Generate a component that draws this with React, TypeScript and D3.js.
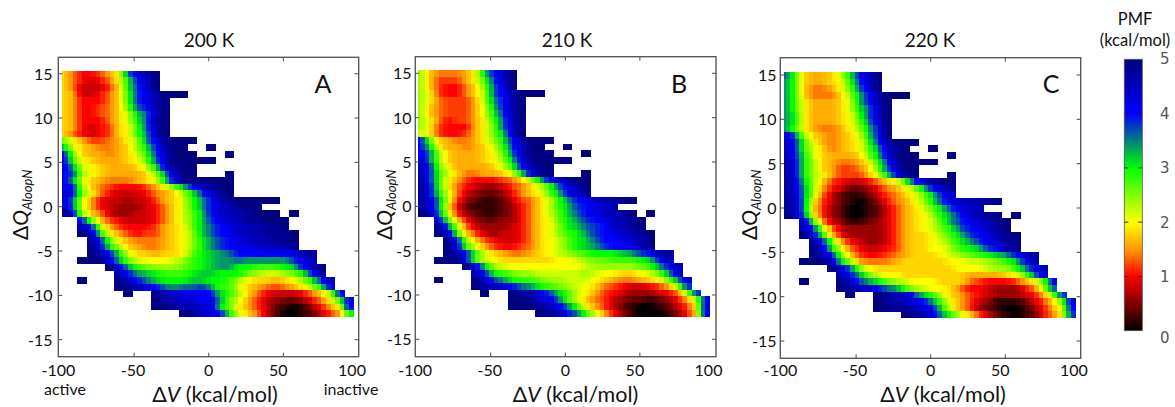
import React from "react";
import * as d3 from "d3";

// PMF maps. Each character is one bin, in units of 0.2 kcal/mol, base 26 (0..9,a..p); '.' = no data.
const pmf200K = [
"975568ailnp","975457afkmp","9744469fjmp","9844579ejlnppp","9855579ejlnp","9855679diknp","9855679bginp","9855579bfiop","9854569aeinp","9754569aehnp",
"da86678achloppp","gb987789cfknpp..p","kd988789bejmppp...p","lea98889adimppppp","mhba98889bflopp","kjca988889chmpp...p","lhb9877789bfloppppp","lkc97655568adgkmopp","mkda754445789cfjmop",
"mib8544344689behknoppppp","nib8543334579behkmnopp","plc9743344579bdgkmnnoppp.p","..kd965444579bdgjlmnooppp","..nkc86555689adgiklmnnoop","..pnfa8656689acgiklmnnooop",
"...okda877789acfhjklmnnoop","...plfc987789acfhjkllmmnno","...pnkfb99899adfghikkkkkklno","..ppplhdbaaabcefghhihhhhhjln",".....plhedcccdefghhffeeefgkmp","......nkhgfeeefggfffdcbbcdfko",
"..p...pmkigfffggffeca9989acfjn","......ponlkihiijheeb987678acfl",".......p..onmllkkgec975444579ck","..........ponmmklhdb864322357ael","..........pponnmmgda8642101358al",".............pomlkfb97420012468f",
];
const pmf210K = [
"c97778agkmp","c96668aejmp","c965579dilp","ca65579cilnppp","ca76668chknp","c976668bgknp","c976668bfjnp","ca75668aeinp","ca65558adimp","ba65568adgmp",
"ke98778acfknppp","kga88789bejmpp..p","lic98889adimppp...p","mic98889acglopppp","nkda88889beknpp","nkeb977889bflop...p","okea86555679cgkmopp","olea754334679beilnp","olfb743223579adgkmo",
"omhb6321124679behklmnnop","omha5211123579begjklmn","pnib6321123579bdgiklmnop.p","..le9532233579adfhjklmnop","..oic743334579acfgijkmnop","..pne964344579acefhjklmnop",
"...okc96544579abdfgikklmnp","...pleb8655679abdfghjkklno","...pnkeb987789abcdefffghjkno","..pppkeba999999aabcddeeefgkn",".....plgcbaaaaaaaabcccccdehkn","......nkfedccbbbbbcbaa99abdhm",
"..p...pmjhfeedccbbba987789adhm","......ponmkihfedcba976544568cj",".......p..ponljgeba8654333457cj","..........ppomlieb976432212358ck","..........ppponliea86421001246al",".............ponkieb85310001359l",
];
const pmf220K = [
"ie9889bfkmp","he9889aejmp","he9778adilp","he97779cgknppp","hea8889bgknp","hea8889bfimp","hfa8889aeimp","hfa8889adhmp","hea8778acgkp","mic98789bfkp",
"nkea8789aejnppp","nkeb9789adhmop..p","nkfb98889cglopp...p","olfc98778aejnpppp","olfc986679dimpp","olfca86668bfkop...p","omgc96544579aejmopp","omhc854223578acgkmo","omhc7421124679adgkm",
"onha6421013578acfjlmnnop","onh963200124689bdgjlmn","pnia63200124689acfhkmnop.p","..me84311234689abehjlmnop","..njc7433334689abdfiklmop","..plf95333346899acegjklnop",
"...okd8543346899abdfhjlmop","...pmfb754456899aacefgjkno","...pnkd9655678999abcdefghkmo","..pppmgc8777899999aabbcdegkn",".....pmida999999999aaabccehkn","......nkhdbaa999999988889adhm",
"..p...pmjhfdcbaaa9997655568adk","......ponmkihecbaa9755433357bi",".......p..ponmjgeb98654333458cj","..........ponnlkhda86431112469dl","..........ppoonlkfa86321001358bk",".............ponlheb9642101257aj",
];

const panelTitles = ["200 K", "210 K", "220 K"];
const panelLetters = ["A", "B", "C"];
const xTicks = [-100, -50, 0, 50, 100];
const yTicks = [15, 10, 5, 0, -5, -10, -15];
const legendTicks = [5, 4, 3, 2, 1, 0];
const pmfStops = [0, 0.5, 1, 1.5, 2, 2.5, 3, 3.5, 4, 5];
const pmfColors = ["#000000", "#800000", "#ff0000", "#ff9900", "#ffff00", "#80ff00", "#00ff00", "#008080", "#0000ff", "#000080"];

const color = d3.scaleLinear<string>().domain(pmfStops).range(pmfColors).interpolate(d3.interpolateRgb);

const FONT = "Lato, 'Open Sans', sans-serif";

// bin layout in data units
const BIN_DV = 6.17;
const DV_START = -100.4;
const DV_CLIP = -98.6;
const BIN_DQ = 0.75;
const DQ_START = 15.33;

type Layout = {
  data: string[]; title: string; letter: string;
  frame: [number, number, number, number];
  xr: [number, number]; yr: [number, number];
  titleX: number; letterX: number; xLabelX: number; yLabelX: number; yTickX: number;
};

const panels: Layout[] = [
  { data: pmf200K, title: panelTitles[0], letter: panelLetters[0], frame: [58.3, 57.3, 358.7, 356.7], xr: [59.5, 358], yr: [73.7, 339.7], titleX: 209, letterX: 323, xLabelX: 215, yLabelX: 28, yTickX: 52.5 },
  { data: pmf210K, title: panelTitles[1], letter: panelLetters[1], frame: [415.3, 56.7, 716, 356.7], xr: [416.1, 714.5], yr: [73.3, 339.3], titleX: 567, letterX: 679, xLabelX: 575.5, yLabelX: 392, yTickX: 411.5 },
  { data: pmf220K, title: panelTitles[2], letter: panelLetters[2], frame: [780.3, 57.7, 1080.7, 358.3], xr: [781.5, 1079.9], yr: [75, 341], titleX: 930, letterX: 1051, xLabelX: 943, yLabelX: 757, yTickX: 776.5 },
];
const xLabelShift = [-1, -1, 0, -5, -6];

const levelAt = (row: string | undefined, c: number) => {
  const ch = row ? row[c] : undefined;
  return ch === undefined || ch === "." ? null : parseInt(ch, 26) * 0.2;
};

function Panel({ p, i }: { p: Layout; i: number }) {
  const x = d3.scaleLinear().domain([-100, 100]).range(p.xr);
  const y = d3.scaleLinear().domain([15, -15]).range(p.yr);
  const [l, t, r, b] = p.frame;
  const cells: React.ReactNode[] = [];
  p.data.forEach((row, ri) => {
    row.split("").forEach((ch, ci) => {
      const v = levelAt(row, ci);
      if (v === null) return;
      const left = levelAt(row, ci - 1);
      const right = levelAt(row, ci + 1);
      const vL = left === null ? v : 0.72 * v + 0.28 * left;
      const vR = right === null ? v : 0.72 * v + 0.28 * right;
      const x0 = Math.max(DV_CLIP, DV_START + ci * BIN_DV);
      const xm = Math.max(DV_CLIP, DV_START + (ci + 0.5) * BIN_DV);
      const x1 = DV_START + (ci + 1) * BIN_DV;
      const y0 = DQ_START - ri * BIN_DQ;
      const y1 = y0 - BIN_DQ;
      const h = y(y1) - y(y0) + 0.3;
      cells.push(<rect key={ri + "-" + ci + "l"} x={x(x0)} y={y(y0)} width={x(xm) - x(x0) + 0.3} height={h} fill={color(vL)} />);
      cells.push(<rect key={ri + "-" + ci + "r"} x={x(xm)} y={y(y0)} width={x(x1) - x(xm) + 0.3} height={h} fill={color(vR)} />);
    });
  });
  const tick = "#4a4a4a";
  return (
    <g fontFamily={FONT} fill="#111">
      <g filter="url(#soft)" shapeRendering="crispEdges">{cells}</g>
      <rect x={l} y={t} width={r - l} height={b - t} fill="none" stroke="#5a5a5a" strokeWidth={1.4} />
      {xTicks.slice(1, -1).map((v) => (
        <g key={v} stroke={tick} strokeWidth={1}>
          <line x1={x(v)} x2={x(v)} y1={t} y2={t + 4} />
          <line x1={x(v)} x2={x(v)} y1={b} y2={b - 4} />
        </g>
      ))}
      {yTicks.map((v) => (
        <g key={v} stroke={tick} strokeWidth={1}>
          <line x1={l} x2={l + 4} y1={y(v)} y2={y(v)} />
          <line x1={r} x2={r - 4} y1={y(v)} y2={y(v)} />
        </g>
      ))}
      {xTicks.map((v, k) => (
        <text key={v} x={x(v) + xLabelShift[k]} y={376} textAnchor="middle" fontSize={16}>{v}</text>
      ))}
      {yTicks.map((v) => (
        <text key={v} x={p.yTickX} y={y(v) + 6} textAnchor="end" fontSize={16}>{v}</text>
      ))}
      <text x={p.titleX} y={47} textAnchor="middle" fontSize={19}>{p.title}</text>
      <text x={p.letterX} y={93} textAnchor="middle" fontSize={25}>{p.letter}</text>
      <text x={p.xLabelX} y={401.5} textAnchor="middle" fontSize={21.5}>
        Δ<tspan fontStyle="italic">V</tspan> (kcal/mol)
      </text>
      <text transform={`translate(${p.yLabelX},240) rotate(-90)`} fontSize={21}>
        Δ<tspan fontStyle="italic">Q</tspan>
        <tspan fontStyle="italic" fontSize={13} dy={4}>AloopN</tspan>
      </text>
      {i === 0 && (
        <g fontSize={16}>
          <text x={65} y={395} textAnchor="middle">active</text>
          <text x={351} y={395} textAnchor="middle">inactive</text>
        </g>
      )}
    </g>
  );
}

function Legend() {
  const yl = d3.scaleLinear().domain([0, 5]).range([330.7, 59.3]);
  const x0 = 1124.3, x1 = 1142.3;
  const labelDy = (v: number) => (v === 0 ? 7 : v === 5 ? -1 : 0);
  return (
    <g>
      <defs>
        <linearGradient id="pmfbar" x1="0" x2="0" y1="1" y2="0">
          {pmfStops.map((s, k) => (
            <stop key={s} offset={s / 5} stopColor={pmfColors[k]} />
          ))}
        </linearGradient>
      </defs>
      <rect x={x0} y={yl(5)} width={x1 - x0} height={yl(0) - yl(5)} fill="url(#pmfbar)" stroke="#555" strokeWidth={0.8} />
      {legendTicks.slice(1, -1).map((v) => (
        <g key={v} stroke="#222" strokeWidth={1}>
          <line x1={x0} x2={x0 + 4} y1={yl(v)} y2={yl(v)} />
          <line x1={x1 - 4} x2={x1} y1={yl(v)} y2={yl(v)} />
        </g>
      ))}
      {legendTicks.map((v) => (
        <text key={v} x={1160} y={yl(v) + labelDy(v) + 5.5} fontFamily="'DejaVu Sans', sans-serif" fontSize={15} fill="#555">{v}</text>
      ))}
      <text x={1135} y={25} textAnchor="middle" fontFamily={FONT} fontSize={16.5} fill="#111">PMF</text>
      <text x={1135} y={46} textAnchor="middle" fontFamily={FONT} fontSize={16.5} fill="#111">(kcal/mol)</text>
    </g>
  );
}

export default function App() {
  return (
    <svg width={1175} height={407} style={{ position: "absolute", left: 0, top: 0, background: "#fff" }}>
      <defs>
        <filter id="soft" x="-5%" y="-5%" width="110%" height="110%" colorInterpolationFilters="sRGB">
          <feGaussianBlur stdDeviation={0.7} />
        </filter>
      </defs>
      {panels.map((p, i) => (
        <Panel key={p.title} p={p} i={i} />
      ))}
      <Legend />
    </svg>
  );
}
